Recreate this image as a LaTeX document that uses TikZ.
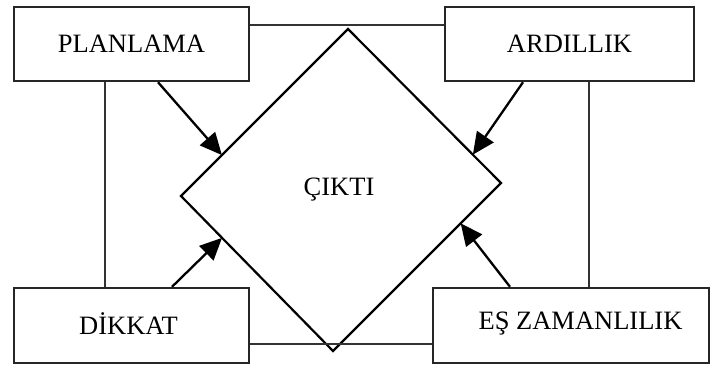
\documentclass[tikz,border=0pt]{standalone}
\usepackage{fontspec}
\setmainfont{Liberation Serif}
\usetikzlibrary{arrows.meta,calc}
\begin{document}
\begin{tikzpicture}[x=1pt,y=-1pt,
  box/.style={draw=black!85,line width=2.4pt,inner sep=0pt,font=\fontsize{26.5}{30}\selectfont},
  lbl/.style={inner sep=0pt,font=\fontsize{26.5}{30}\selectfont},
  link/.style={draw=black!80,line width=2.4pt},
  arr/.style={draw=black,line width=2.3pt,-{Triangle[length=22pt,width=20pt]}},
  dia/.style={draw=black,line width=2.2pt,line join=miter}]
\useasboundingbox (0,0) rectangle (711,365);
% boxes
\node[box,minimum width=235pt,minimum height=74pt] (pl) at (131.5,44) {PLANLAMA};
\node[box,minimum width=249pt,minimum height=74pt] (ar) at (569.5,44) {ARDILLIK};
\node[box,minimum width=235pt,minimum height=75pt] (dk) at (131.5,325.5) {};
\node[lbl] (dkt) at (128.5,323.5) {DİKKAT};
\node[box,minimum width=276pt,minimum height=75pt] (es) at (571,325.5) {};
\node[lbl] (est) at (580.5,323.5) {EŞ ZAMANLILIK};
% diamond
\coordinate (T) at (348,29);
\coordinate (R) at (501,183);
\coordinate (B) at (333,351);
\coordinate (L) at (181,196);
\draw[dia] (T) -- (R) -- (B) -- (L) -- cycle;
\node[lbl] (ck) at (339,190) {ÇIKTI};
% connecting lines
\coordinate (tl) at (0,25);
\coordinate (bl) at (0,344);
\coordinate (lv) at (105,0);
\coordinate (rv) at (589,0);
\draw[link] (pl.east |- tl) -- (ar.west |- tl);
\draw[link] (dk.east |- bl) -- (es.west |- bl);
\draw[link] (pl.south -| lv) -- (dk.north -| lv);
\draw[link] (ar.south -| rv) -- (es.north -| rv);
% arrows
\coordinate (a1) at ($(L)!0.245!(T)$);
\coordinate (a2) at ($(T)!0.816!(R)$);
\coordinate (a3) at ($(L)!0.27!(B)$);
\coordinate (a4) at ($(R)!0.24!(B)$);
\draw[arr] (pl.south -| 158,0) -- (a1);
\draw[arr] (ar.south -| 523,0) -- (a2);
\draw[arr] (dk.north -| 172,0) -- (a3);
\draw[arr] (es.north -| 510,0) -- (a4);
\end{tikzpicture}
\end{document}
